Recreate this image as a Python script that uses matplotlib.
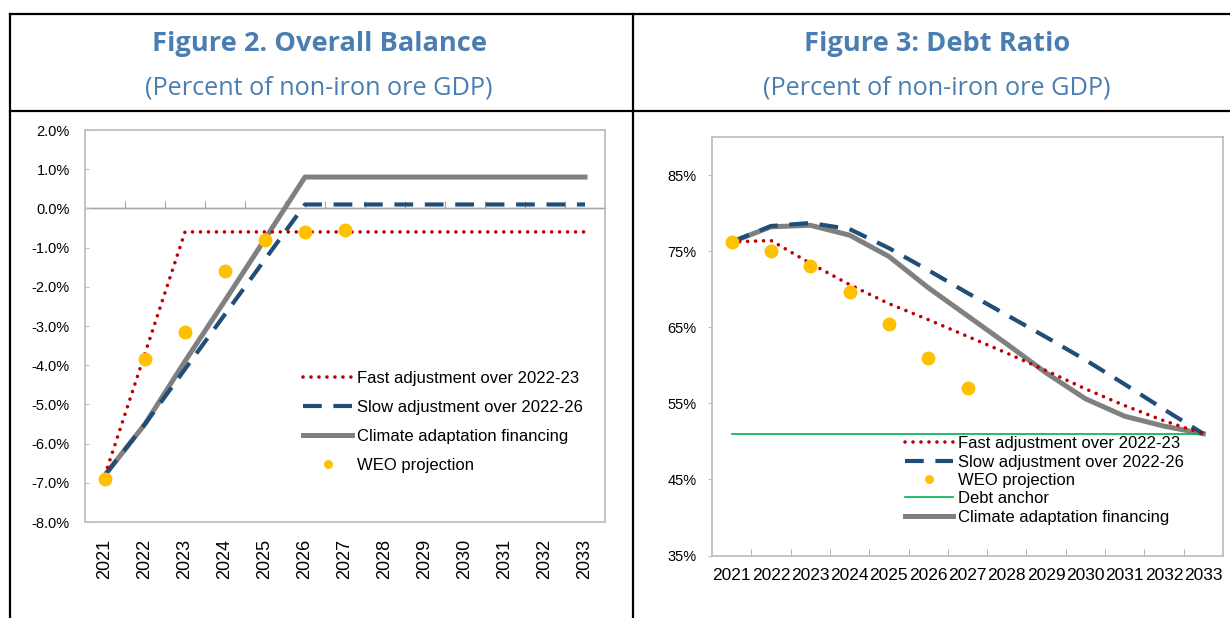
import matplotlib
matplotlib.use("Agg")
import matplotlib.pyplot as plt
from matplotlib.lines import Line2D
from matplotlib.ticker import FuncFormatter

plt.rcParams['font.family'] = ['Liberation Sans', 'DejaVu Sans']

years = [str(y) for y in range(2021, 2034)]

# Figure 2: overall balance, percent of non-iron ore GDP
bal_fast = [-6.8, -3.7, -0.6, -0.6, -0.6, -0.6, -0.6, -0.6, -0.6, -0.6, -0.6, -0.6, -0.6]
bal_slow = [-6.8, -5.5, -4.1, -2.7, -1.3, 0.1, 0.1, 0.1, 0.1, 0.1, 0.1, 0.1, 0.1]
bal_climate = [-6.8, -5.5, -3.9, -2.35, -0.78, 0.8, 0.8, 0.8, 0.8, 0.8, 0.8, 0.8, 0.8]
bal_weo = [-6.9, -3.85, -3.15, -1.6, -0.8, -0.6, -0.55]

# Figure 3: debt ratio, percent of non-iron ore GDP
debt_fast = [76.2, 76.4, 73.4, 70.6, 68.1, 66.0, 63.8, 61.6, 59.3, 56.9, 54.7, 52.7, 51.0]
debt_slow = [76.2, 78.3, 78.7, 77.9, 75.4, 72.5, 69.5, 66.6, 63.7, 60.7, 57.5, 54.2, 51.0]
debt_climate = [76.2, 78.2, 78.4, 77.1, 74.3, 70.2, 66.5, 62.8, 59.0, 55.6, 53.3, 52.0, 51.0]
debt_weo = [76.2, 75.0, 73.0, 69.6, 65.4, 61.0, 57.0]
debt_anchor = [51.0] * 13

RED = '#c00000'
BLUE = '#1f4e79'
GREY = '#808080'
GOLD = '#ffc000'
GREEN = '#00b050'
TITLE = '#4a7eb0'
FRAME = '#bfbfbf'

x = list(range(len(years)))
bounds = [i + 0.5 for i in range(len(years) - 1)]

fig = plt.figure(figsize=(12.3, 6.18), dpi=100)

# table borders
def hline(y, x0=10, x1=1230):
    fig.add_artist(Line2D([x0 / 1230, x1 / 1230], [1 - y / 618, 1 - y / 618],
                          color='black', lw=1.6, transform=fig.transFigure))

def vline(xp, y0=14, y1=618):
    fig.add_artist(Line2D([xp / 1230, xp / 1230], [1 - y0 / 618, 1 - y1 / 618],
                          color='black', lw=1.6, transform=fig.transFigure))

hline(14)
hline(110.5)
vline(10)
vline(632.5)

# titles
for cx, t in [(319, 'Figure 2. Overall Balance'), (937, 'Figure 3: Debt Ratio')]:
    fig.text(cx / 1230, 1 - 44 / 618, t, ha='center', va='center', color=TITLE,
             fontsize=19.6, fontweight='bold', family='Open Sans')
    fig.text(cx / 1230, 1 - 88 / 618, '(Percent of non-iron ore GDP)', ha='center',
             va='center', color=TITLE, fontsize=18.2, family='Open Sans')

# ---- left chart
ax1 = fig.add_axes([85 / 1230, 1 - 522 / 618, 520 / 1230, 392 / 618])
ax1.plot(x, bal_climate, color=GREY, lw=3.6, label='Climate adaptation financing', zorder=3)
ax1.plot(x, bal_slow, color=BLUE, lw=3.0, dashes=(4.5, 2.8), label='Slow adjustment over 2022-26', zorder=4)
ax1.plot(x, bal_fast, color=RED, lw=2.6, dashes=(0.01, 2.2), dash_capstyle='round',
         label='Fast adjustment over 2022-23', zorder=5)
ax1.plot(x[:len(bal_weo)], bal_weo, 'o', color=GOLD, ms=9, label='WEO projection', zorder=6)

ax1.set_xlim(-0.5, len(years) - 0.5)
ax1.set_ylim(-8, 2)
ax1.set_yticks(range(-8, 3))
ax1.yaxis.set_major_formatter(FuncFormatter(lambda v, p: f'{v:.1f}%'))
ax1.set_xticks(x, years, rotation=90)
ax1.tick_params(axis='x', length=0, pad=12, labelsize=13)
ax1.tick_params(axis='y', direction='in', length=3, color=FRAME, pad=11, labelsize=10.5)
for s in ax1.spines.values():
    s.set_color(FRAME)
    s.set_linewidth(1.3)
ax1.axhline(0, color='#a6a6a6', lw=1.0, zorder=1)
zero_frac = (0 - (-8)) / 10
sec = ax1.secondary_xaxis(zero_frac)
sec.set_xticks(bounds, labels=[])
sec.tick_params(direction='out', length=5, color='#a6a6a6')
sec.spines['bottom'].set_visible(False)

h1, l1 = ax1.get_legend_handles_labels()
order1 = [2, 1, 0, 3]
ax1.legend([h1[i] for i in order1], [l1[i] for i in order1], loc='upper left',
           bbox_to_anchor=(0.42, 0.385), frameon=False, fontsize=12, borderpad=0,
           borderaxespad=0, handlelength=2.9, handletextpad=0.3, labelspacing=0.84,
           markerscale=0.6)

# ---- right chart
ax2 = fig.add_axes([712 / 1230, 1 - 555.5 / 618, 511 / 1230, 418.5 / 618])
lc, = ax2.plot(x, debt_climate, color=GREY, lw=3.6, label='Climate adaptation financing', zorder=2)
la, = ax2.plot(x, debt_anchor, color=GREEN, lw=1.2, label='Debt anchor', zorder=2.5)
ls, = ax2.plot(x, debt_slow, color=BLUE, lw=3.0, dashes=(4.5, 2.8), label='Slow adjustment over 2022-26', zorder=3)
lf, = ax2.plot(x, debt_fast, color=RED, lw=2.6, dashes=(0.01, 2.2), dash_capstyle='round',
               label='Fast adjustment over 2022-23', zorder=4)
lw_, = ax2.plot(x[:len(debt_weo)], debt_weo, 'o', color=GOLD, ms=9, label='WEO projection', zorder=5)

ax2.set_xlim(-0.5, len(years) - 0.5)
ax2.set_ylim(35, 90)
ax2.set_yticks(range(35, 90, 10))
ax2.yaxis.set_major_formatter(FuncFormatter(lambda v, p: f'{v:.0f}%'))
ax2.set_xticks(x, years)
ax2.set_xticks(bounds, minor=True)
ax2.tick_params(axis='x', which='major', length=0, pad=9, labelsize=12.5)
ax2.tick_params(axis='x', which='minor', direction='in', length=5, color='#a6a6a6')
ax2.tick_params(axis='y', direction='out', length=3, color=FRAME, pad=8, labelsize=10.5)
for s in ax2.spines.values():
    s.set_color(FRAME)
    s.set_linewidth(1.3)

ax2.legend([lf, ls, lw_, la, lc],
           [lf.get_label(), ls.get_label(), lw_.get_label(), la.get_label(), lc.get_label()],
           loc='upper left', bbox_to_anchor=(0.378, 0.285), frameon=False, fontsize=12,
           borderpad=0, borderaxespad=0, handlelength=2.9, handletextpad=0.3,
           labelspacing=0.2, markerscale=0.6)

fig.savefig('out.png', dpi=100)
